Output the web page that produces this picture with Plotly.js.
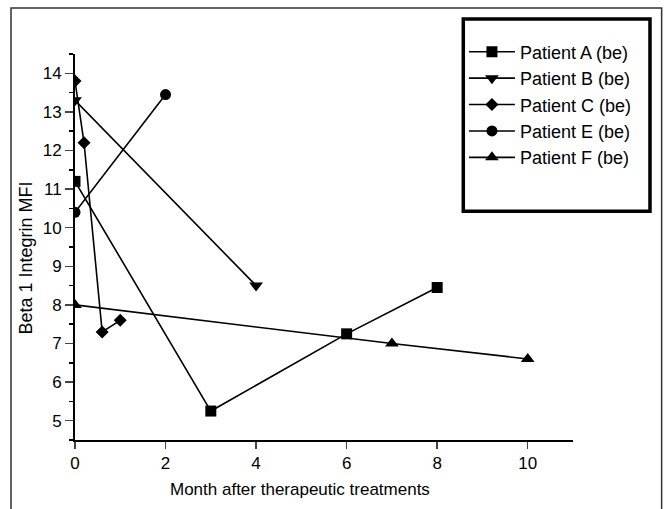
<!DOCTYPE html>
<html>
<head>
<meta charset="utf-8">
<script src="https://cdn.plot.ly/plotly-3.0.1.min.js"></script>
<style>html,body{margin:0;padding:0;background:#fff;}#chart{width:670px;height:509px;}</style>
</head>
<body>
<div id="chart"></div>
<script>
// Data
const seriesNames = ["Patient A (be)", "Patient B (be)", "Patient C (be)", "Patient E (be)", "Patient F (be)"];
const aMonths = [0, 3, 6, 8];
const aValues = [11.2, 5.25, 7.25, 8.45];
const bMonths = [0, 4];
const bValues = [13.3, 8.5];
const cMonths = [0, 0.2, 0.6, 1];
const cValues = [13.8, 12.2, 7.3, 7.6];
const eMonths = [0, 2];
const eValues = [10.4, 13.45];
const fMonths = [0, 7, 10];
const fValues = [8.0, 7.0, 6.6];
const xTickVals = [0, 2, 4, 6, 8, 10];
const yTickVals = [5, 6, 7, 8, 9, 10, 11, 12, 13, 14];
const xTitle = "Month after therapeutic treatments";
const yTitle = "Beta 1 Integrin MFI";

const symbols = ["square", "triangle-down", "diamond", "circle", "triangle-up"];
const sizes = [11, 12, 10, 11, 12];
const xs = [aMonths, bMonths, cMonths, eMonths, fMonths];
const ys = [aValues, bValues, cValues, eValues, fValues];

const traces = seriesNames.map((n, i) => ({
  type: "scatter", mode: "lines+markers", name: n,
  x: xs[i], y: ys[i],
  line: {color: "#000", width: 1.6},
  marker: {symbol: symbols[i], size: sizes[i], color: "#000"},
  cliponaxis: true
}));

const FONT = "Liberation Sans, Arial, sans-serif";
const layout = {
  width: 670, height: 509,
  margin: {l: 75, r: 97, t: 54, b: 69},
  paper_bgcolor: "#fff", plot_bgcolor: "#fff",
  font: {family: FONT, size: 17, color: "#000"},
  showlegend: true,
  legend: {
    x: 0.781, y: 1.053, xanchor: "left", yanchor: "top",
    bgcolor: "rgba(0,0,0,0)", borderwidth: 0,
    font: {family: FONT, size: 18, color: "#000"},
    itemwidth: 46, tracegroupgap: 0
  },
  xaxis: {
    range: [0, 11], tickvals: xTickVals, ticks: "outside", ticklen: 7, tickwidth: 1.5,
    showline: true, linewidth: 2, linecolor: "#000", showgrid: false, zeroline: false,
    tickfont: {family: FONT, size: 17, color: "#000"}
  },
  yaxis: {
    range: [4.5, 14.5], tickvals: yTickVals, ticks: "outside", ticklen: 8, tickwidth: 1.5,
    showline: true, linewidth: 2, linecolor: "#000", showgrid: false, zeroline: false,
    tickfont: {family: FONT, size: 17, color: "#000"},
    minor: {dtick: 0.5, tick0: 0.5, ticks: "outside", ticklen: 4, tickwidth: 1.5, tickcolor: "#000", showgrid: false}
  },
  annotations: [
    {text: xTitle, xref: "paper", yref: "paper", x: 0.4528, y: -0.1295, xanchor: "center", yanchor: "middle", showarrow: false, font: {family: FONT, size: 17, color: "#000"}},
    {text: yTitle, xref: "paper", yref: "paper", x: -0.0964, y: 0.4728, xanchor: "center", yanchor: "middle", textangle: -90, showarrow: false, font: {family: FONT, size: 18, color: "#000"}}
  ],
  shapes: [
    {type: "rect", xref: "paper", yref: "paper", x0: -0.1285, x1: 1.178, y0: -0.207, y1: 1.119, line: {color: "#333", width: 1.5}, fillcolor: "rgba(0,0,0,0)", layer: "below"},
    {type: "rect", xref: "paper", yref: "paper", x0: 0.7797, x1: 1.1546, y0: 0.5925, y1: 1.0907, line: {color: "#000", width: 3.5}, fillcolor: "rgba(0,0,0,0)", layer: "above"}
  ]
};

Plotly.newPlot("chart", traces, layout, {displayModeBar: false, staticPlot: true});
</script>
</body>
</html>
